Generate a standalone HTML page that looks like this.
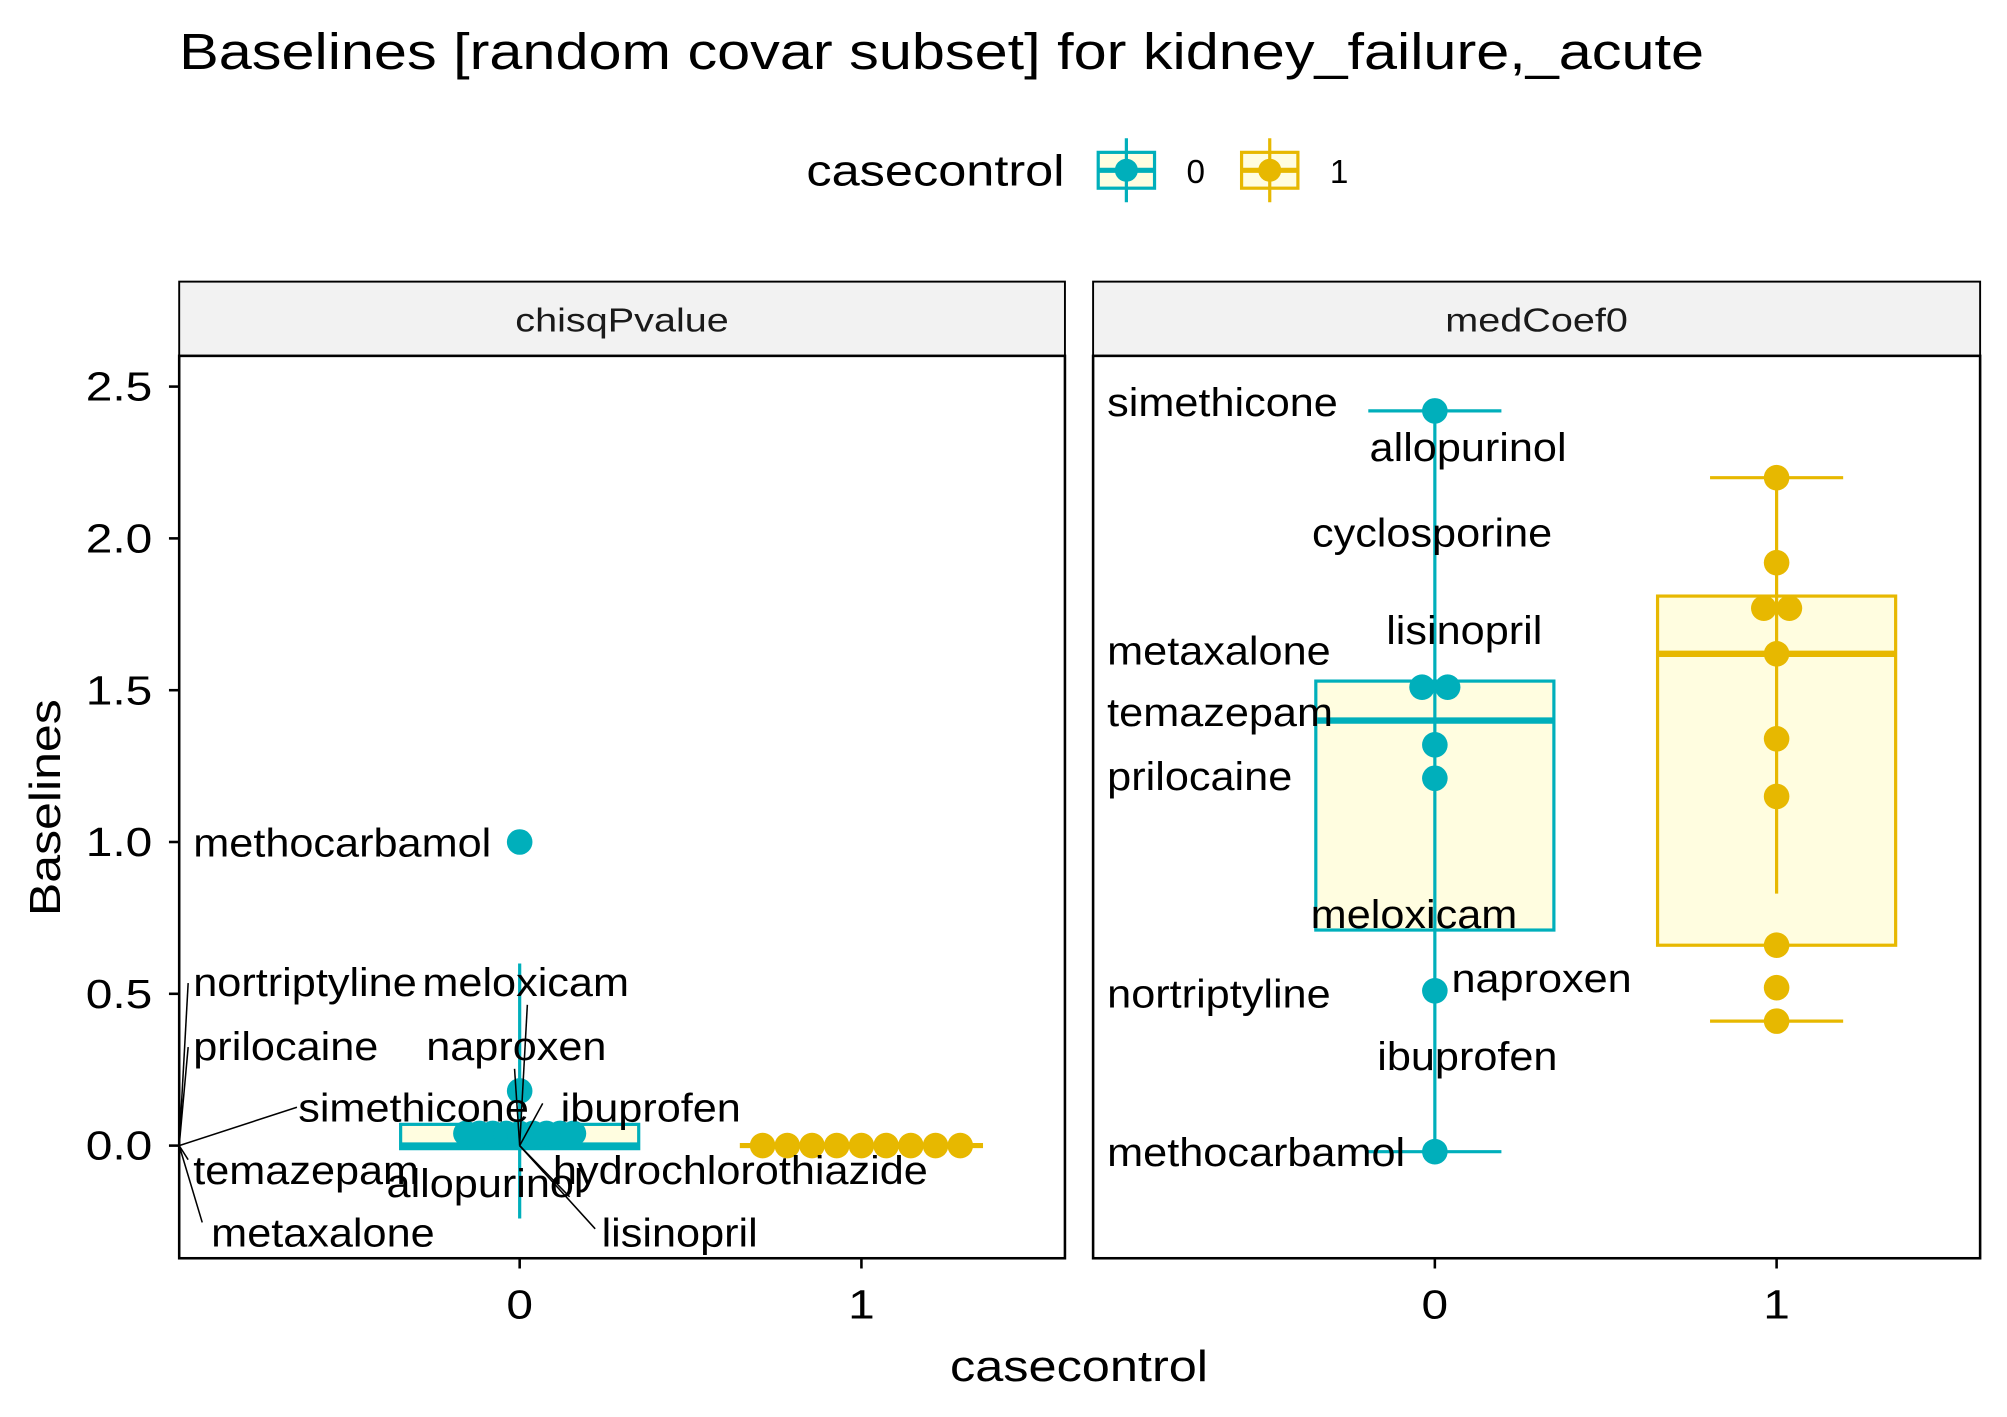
<!DOCTYPE html>
<html><head><meta charset="utf-8"><style>
html,body{margin:0;padding:0;background:#fff}
svg{display:block}
text{font-family:"Liberation Sans",sans-serif}
</style></head><body>
<svg id="chart" width="2007" height="1417" viewBox="0 0 1568 1107" xmlns="http://www.w3.org/2000/svg">
<rect width="1568" height="1107" fill="#fff"/>
<text class="st" data-s="1.16" x="140" y="54" font-size="40">Baselines [random covar subset] for kidney_failure,_acute</text>
<g>
<text class="st" data-s="1.16" x="630" y="145" font-size="34">casecontrol</text>
<g>
<rect x="858" y="119" width="44" height="28" fill="#FFFDE0" stroke="#00AFBB" stroke-width="2.5"/>
<line x1="880" y1="108" x2="880" y2="158" stroke="#00AFBB" stroke-width="2.5"/>
<line x1="858" y1="133" x2="902" y2="133" stroke="#00AFBB" stroke-width="4"/>
<circle cx="880" cy="133" r="9" fill="#00AFBB"/>
<text x="927" y="143" font-size="26">0</text></g>
<g>
<rect x="970" y="119" width="44" height="28" fill="#FFFDE0" stroke="#E7B800" stroke-width="2.5"/>
<line x1="992" y1="108" x2="992" y2="158" stroke="#E7B800" stroke-width="2.5"/>
<line x1="970" y1="133" x2="1014" y2="133" stroke="#E7B800" stroke-width="4"/>
<circle cx="992" cy="133" r="9" fill="#E7B800"/>
<text x="1039" y="143" font-size="26">1</text></g>
</g>
<g id="left"></g><g id="right"></g><g id="axes"></g>
<text class="st" data-s="1.15" transform="translate(47,631) rotate(-90)" text-anchor="middle" font-size="34">Baselines</text>
<text class="st" data-s="1.16" x="843" y="1079" text-anchor="middle" font-size="34">casecontrol</text>
</svg>
<script>
const yTicks=[0,0.5,1,1.5,2,2.5];
const yTickLabels=["0.0","0.5","1.0","1.5","2.0","2.5"];
const xCats=["0","1"];
const panelNames=["chisqPvalue","medCoef0"];
// left panel (chisqPvalue)
const leftCtrlVals=[1.0,0.18];
const leftCtrlDots=[0.04,0.04,0.04,0.04,0.04,0.04,0.04,0.04,0.04];
const leftCaseDots=[0,0,0,0,0,0,0,0,0];
const leftCtrlBox=[-0.01,0.0,0.07];
const leftCtrlWhisk=[-0.24,0.6];
const leftCaseWhisk=[0,0];
// right panel (medCoef0)
const rightCtrlVals=[2.42,1.51,1.51,1.32,1.21,0.51,-0.02];
const rightCtrlOff=[0,-1,1,0,0,0,0];
const rightCaseVals=[2.2,1.92,1.77,1.77,1.62,1.34,1.15,0.66,0.52,0.41];
const rightCaseOff=[0,0,-1,1,0,0,0,0,0,0];
const rightCtrlBox=[0.71,1.40,1.53];
const rightCaseBox=[0.66,1.62,1.81];
const rightCtrlWhisk=[-0.02,2.42];
const rightCaseWhisk=[0.83,2.2];
const rightCtrlCaps=[-0.02,2.42];
const rightCaseCaps=[0.41,2.2];

const NS="http://www.w3.org/2000/svg";
const TEAL="#00AFBB",GOLD="#E7B800",FILL="#FFFDE0";
const y=v=>895-237.2*v;
const panels=[{x0:140,x1:832,cx:[406,673]},{x0:854,x1:1547,cx:[1121,1388]}];
function mk(tag,attrs,parent){const e=document.createElementNS(NS,tag);for(const k in attrs)e.setAttribute(k,attrs[k]);parent.appendChild(e);return e;}
const L=document.getElementById('left'),R=document.getElementById('right'),A=document.getElementById('axes');
panels.forEach((p,i)=>{
  const s=mk('rect',{x:p.x0,y:220,width:p.x1-p.x0,height:58,fill:'#F2F2F2',stroke:'#000','stroke-width':1.5},A);
  
  
  const t=mk('text',{x:(p.x0+p.x1)/2,y:259,'text-anchor':'middle','font-size':26,fill:'#1a1a1a',class:'st','data-s':1.19},A);t.textContent=panelNames[i];
  
  
  xCats.forEach((c,j)=>{
    mk('line',{x1:p.cx[j],x2:p.cx[j],y1:983,y2:991,stroke:'#000','stroke-width':2},A);
    const tl=mk('text',{x:p.cx[j],y:1030,'text-anchor':'middle','font-size':32,class:'st','data-s':1.17},A);tl.textContent=c;
    
    
  });
});
yTicks.forEach((v,i)=>{
  mk('line',{x1:132,x2:140,y1:y(v),y2:y(v),stroke:'#000','stroke-width':2},A);
  const t=mk('text',{x:119,y:y(v)+11,'text-anchor':'end','font-size':32,class:'st','data-s':1.17},A);t.textContent=yTickLabels[i];
  
  
});
function box(par,cx,hw,b,col,name){
  const r=mk('rect',{x:cx-hw,y:y(b[2]),width:2*hw,height:y(b[0])-y(b[2]),fill:FILL,stroke:col,'stroke-width':2.5},par);
  
  
  mk('line',{x1:cx-hw,x2:cx+hw,y1:y(b[1]),y2:y(b[1]),stroke:col,'stroke-width':5},par);
}
function dot(par,cx,v,col,name){
  const c=mk('circle',{cx:cx,cy:y(v),r:10,fill:col},par);
  
  
}
// left panel
const l=panels[0];
box(L,l.cx[0],93,leftCtrlBox,TEAL,'box-control');
mk('line',{x1:l.cx[0],x2:l.cx[0],y1:y(leftCtrlWhisk[0]),y2:y(leftCtrlWhisk[1]),stroke:TEAL,'stroke-width':2.5},L);
leftCtrlDots.forEach((v,i)=>dot(L,l.cx[0]+(i-(leftCtrlDots.length-1)/2)*10.5,v,TEAL,'point-control'));
leftCtrlVals.forEach(v=>dot(L,l.cx[0],v,TEAL,'point-control'));
mk('line',{x1:l.cx[1]-95,x2:l.cx[1]+95,y1:y(leftCaseWhisk[0]),y2:y(leftCaseWhisk[1]),stroke:GOLD,'stroke-width':4},L);
leftCaseDots.forEach((v,i)=>dot(L,l.cx[1]+(i-(leftCaseDots.length-1)/2)*19.3,v,GOLD,'point-case'));
// left labels & leader lines
const segs=[[140,895,147,768],[140,895,147,818],[140,895,232,865],[140,895,147,906],[140,895,158,955],[406,895,412,785],[406,895,402,835],[406,895,424,862],[406,895,425,916],[406,895,465,960],[406,895,445,935]];
segs.forEach(s=>mk('line',{x1:s[0],y1:s[1],x2:s[2],y2:s[3],stroke:'#000','stroke-width':1.2},L));
const ll=[["nortriptyline",151,778],["meloxicam",330,778],["prilocaine",151,828],["naproxen",333,828],["simethicone",233,876],["ibuprofen",438,876],["temazepam",151,925],["allopurinol",302,935],["hydrochlorothiazide",432,925],["metaxalone",165,974],["lisinopril",470,974],["methocarbamol",151,669]];
ll.forEach(a=>{const t=mk('text',{x:a[1],y:a[2],'font-size':31,class:'st','data-s':1.09},L);t.textContent=a[0];
  
  });
// right panel
const r=panels[1];
box(R,r.cx[0],93,rightCtrlBox,TEAL,'box-control');
box(R,r.cx[1],93,rightCaseBox,GOLD,'box-case');
mk('line',{x1:r.cx[0],x2:r.cx[0],y1:y(rightCtrlWhisk[0]),y2:y(rightCtrlWhisk[1]),stroke:TEAL,'stroke-width':2.5},R);
mk('line',{x1:r.cx[1],x2:r.cx[1],y1:y(rightCaseWhisk[0]),y2:y(rightCaseWhisk[1]),stroke:GOLD,'stroke-width':2.5},R);
rightCtrlCaps.forEach(v=>mk('line',{x1:r.cx[0]-52,x2:r.cx[0]+52,y1:y(v),y2:y(v),stroke:TEAL,'stroke-width':2.5},R));
rightCaseCaps.forEach(v=>mk('line',{x1:r.cx[1]-52,x2:r.cx[1]+52,y1:y(v),y2:y(v),stroke:GOLD,'stroke-width':2.5},R));
rightCtrlVals.forEach((v,i)=>dot(R,r.cx[0]+rightCtrlOff[i]*10,v,TEAL,'point-control'));
rightCaseVals.forEach((v,i)=>dot(R,r.cx[1]+rightCaseOff[i]*10,v,GOLD,'point-case'));
const rl=[["simethicone",865,325],["allopurinol",1070,360],["cyclosporine",1025,427],["lisinopril",1083,503],["metaxalone",865,519],["temazepam",865,567],["prilocaine",865,617],["meloxicam",1024,725],["naproxen",1134,775],["nortriptyline",865,787],["ibuprofen",1076,836],["methocarbamol",865,911]];
rl.forEach(a=>{const t=mk('text',{x:a[1],y:a[2],'font-size':31,class:'st','data-s':1.09},R);t.textContent=a[0];
  
  });
panels.forEach((p,i)=>{const f=mk('rect',{x:p.x0,y:278,width:p.x1-p.x0,height:705,fill:'none',stroke:'#000','stroke-width':2},A);
  
  });
// horizontal stretch of text to match reference glyph widths
document.querySelectorAll('text.st').forEach(t=>{
  const w=t.getComputedTextLength();
  t.setAttribute('textLength',(w*parseFloat(t.getAttribute('data-s'))).toFixed(1));
  t.setAttribute('lengthAdjust','spacingAndGlyphs');
});
</script>
</body></html>
